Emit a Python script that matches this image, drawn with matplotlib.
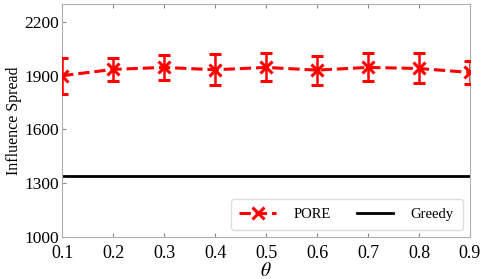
import matplotlib

matplotlib.use("Agg")

import matplotlib.pyplot as plt
import numpy as np
from matplotlib.lines import Line2D

theta = [0.1, 0.2, 0.3, 0.4, 0.5, 0.6, 0.7, 0.8, 0.9]
pore_mean = [1900, 1935, 1946, 1933, 1946, 1931, 1946, 1940, 1918]
pore_low = [1800, 1872, 1876, 1848, 1868, 1850, 1872, 1857, 1854]
pore_high = [2000, 1998, 2017, 2020, 2026, 2011, 2026, 2026, 1983]
greedy_value = 1340

yticks = [1000, 1300, 1600, 1900, 2200]

plt.rcParams["font.family"] = ["Liberation Serif", "DejaVu Serif"]
plt.rcParams["mathtext.fontset"] = "stix"

fig = plt.figure(figsize=(4.82, 2.79), dpi=100)
ax = fig.add_axes([0.129, 0.15, 0.846, 0.836])

mean = np.array(pore_mean)
yerr = [mean - np.array(pore_low), np.array(pore_high) - mean]
ax.errorbar(theta, pore_mean, yerr=yerr, color="red", linestyle="--", linewidth=2.2,
            marker="x", markersize=9, markeredgewidth=2.2, capsize=4, capthick=1.8,
            elinewidth=1.8, zorder=3)
ax.axhline(greedy_value, color="black", linewidth=2)

ax.set_xlim(0.1, 0.9)
ax.set_ylim(1000, 2300)
ax.set_xticks(theta)
ax.set_xticklabels([f"{t:.1f}" for t in theta])
ax.set_yticks(yticks)

for s in ax.spines.values():
    s.set_color("#b0b0b0")
ax.tick_params(direction="in", top=True, right=False, color="#888888", labelsize=13,
               length=3)
ax.tick_params(axis="x", pad=6)
ax.tick_params(axis="y", pad=2, labelsize=12.5)

ax.set_xlabel(r"$\theta$", fontsize=14, labelpad=0)
ax.set_ylabel("Influence Spread", fontsize=11.5, labelpad=2)

handles = [
    Line2D([], [], color="red", linestyle="--", linewidth=2.2, marker="x",
           markersize=8, markeredgewidth=2.2),
    Line2D([], [], color="black", linewidth=2),
]
ax.legend(handles, ["PORE", "Greedy"], loc="lower right", ncol=2, fontsize=10.5,
          fancybox=True, framealpha=1, edgecolor="#dddddd", handlelength=2.5,
          handletextpad=1.2, columnspacing=1.8, borderpad=0.6)

fig.savefig("out.png", dpi=100)
